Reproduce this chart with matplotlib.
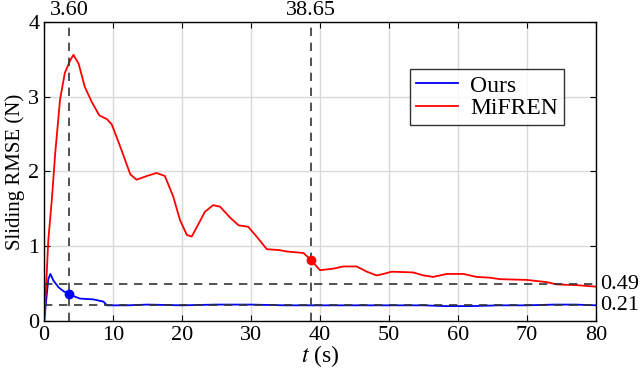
import numpy as np
import matplotlib.pyplot as plt

plt.rcParams['font.family'] = ['Liberation Serif', 'DejaVu Serif']
plt.rcParams['mathtext.fontset'] = 'stix'

# MiFREN sliding RMSE
t_mif = [0, 0.3, 0.6, 1.1, 1.6, 2.3, 3.0, 3.8, 4.25, 5.0, 5.9, 6.9, 8.0, 9.1, 9.8, 11.0, 12.5,
         13.4, 14.9, 16.3, 17.5, 18.7, 19.7, 20.7, 21.4, 22.1, 23.3, 24.5, 25.5, 27.0, 28.2,
         29.6, 30.8, 32.3, 34.0, 35.2, 37.6, 38.65, 40.0, 41.9, 43.4, 45.3, 46.8, 48.2, 49.2,
         50.4, 53.5, 55.0, 56.4, 58.4, 60.8, 62.7, 64.6, 66.1, 70.0, 72.9, 74.3, 77.2, 80.0]
y_mif = [0, 0.5, 1.08, 1.61, 2.24, 2.96, 3.32, 3.49, 3.56, 3.44, 3.13, 2.93, 2.75, 2.70, 2.63,
         2.34, 1.96, 1.89, 1.94, 1.98, 1.94, 1.67, 1.35, 1.15, 1.13, 1.25, 1.46, 1.55, 1.53,
         1.38, 1.28, 1.26, 1.13, 0.96, 0.95, 0.93, 0.91, 0.82, 0.68, 0.70, 0.73, 0.73, 0.66,
         0.61, 0.63, 0.66, 0.65, 0.61, 0.59, 0.63, 0.63, 0.59, 0.58, 0.56, 0.55, 0.52, 0.49,
         0.48, 0.46]

# Ours sliding RMSE
t_ours = [0, 0.3, 0.6, 0.9, 1.35, 2.1, 2.8, 3.8, 5.2, 7.1, 8.6, 9.1, 12.0, 15.0, 20.0, 25.0,
          30.0, 35.0, 40.0, 45.0, 50.0, 55.0, 58.0, 62.0, 66.0, 70.0, 74.0, 77.0, 80.0]
y_ours = [0, 0.28, 0.56, 0.63, 0.54, 0.45, 0.40, 0.35, 0.30, 0.29, 0.26, 0.21, 0.21, 0.22,
          0.21, 0.22, 0.22, 0.21, 0.21, 0.21, 0.21, 0.21, 0.20, 0.20, 0.21, 0.21, 0.22, 0.22,
          0.21]

t_marks = [3.60, 38.65]
h_marks = [0.49, 0.21]

fig = plt.figure(figsize=(6.4, 3.72), dpi=100)
ax = fig.add_axes([0.069, 0.137, 0.862, 0.804])

ax.plot(t_ours, y_ours, color='blue', lw=1.3, label='Ours')
ax.plot(t_mif, y_mif, color='red', lw=1.3, label='MiFREN')

for tm in t_marks:
    ax.axvline(tm, color='#333333', ls=(0, (5, 4)), lw=1.2)
for hm in h_marks:
    ax.axhline(hm, color='#333333', ls=(0, (5, 4)), lw=1.2)

ax.plot(t_marks[0], np.interp(t_marks[0], t_ours, y_ours), 'o', color='blue', ms=6)
ax.plot(t_marks[1], np.interp(t_marks[1], t_mif, y_mif), 'o', color='red', ms=6)

ax.set_xlim(0, 80)
ax.set_ylim(0, 4)
ax.set_xticks(range(0, 81, 10))
ax.set_yticks(range(0, 5))
ax.grid(True, color='#d9d9d9', lw=1)
ax.tick_params(direction='in', top=True, right=True, labelsize=16, length=4)
for s in ax.spines.values():
    s.set_linewidth(1.0)

for tm in t_marks:
    ax.text(tm, 4.03, f'{tm:.2f}', ha='center', va='bottom', fontsize=16)
for hm in h_marks:
    ax.text(80.6, hm, f'{hm:.2f}', ha='left', va='center', fontsize=16)

ax.set_xlabel('$t$ (s)', fontsize=17, labelpad=-1)
ax.set_ylabel('Sliding RMSE (N)', fontsize=15, labelpad=2)

leg = ax.legend(loc='upper left', bbox_to_anchor=(0.663, 0.842), fontsize=17, frameon=True,
                fancybox=False, edgecolor='black', handlelength=1.8, borderpad=0.25,
                labelspacing=0.05, handletextpad=0.5, borderaxespad=0)
leg.get_frame().set_linewidth(1.0)

plt.savefig('out.png')
